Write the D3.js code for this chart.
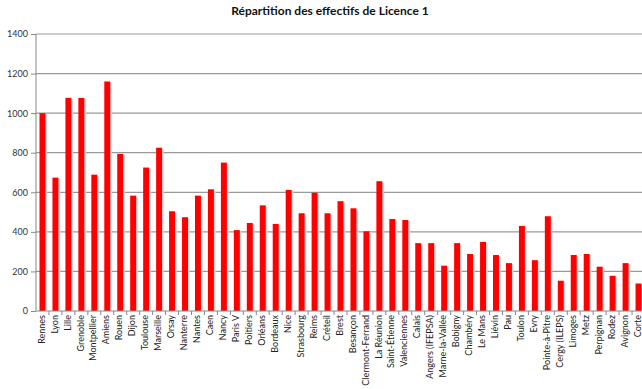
<!DOCTYPE html>
<html>
<head>
<meta charset="utf-8">
<script src="https://cdn.jsdelivr.net/npm/d3@7"></script>
<style>
  body{margin:0;background:#fff;}
  svg{display:block;}
  .tick text{font-family:Lato,"Open Sans",sans-serif;}
</style>
</head>
<body>
<svg id="chart"></svg>
<script>
var width=642;
var height=389;

var margin={top:34,right:-3,bottom:78,left:36};

var villes=['Rennes','Lyon','Lille','Grenoble','Montpellier','Amiens','Rouen','Dijon','Toulouse','Marseille',
            'Orsay','Nanterre','Nantes','Caen','Nancy','Paris V','Poitiers','Orléans','Bordeaux','Nice',
            'Strasbourg','Reims','Créteil','Brest','Besançon','Clermont-Ferrand','La Réunion','Saint-Étienne','Valenciennes','Calais',
            'Angers (IFEPSA)','Marne-la-Vallée','Bobigny','Chambéry','Le Mans','Liévin','Pau','Toulon','Evry','Pointe-à-Pitre',
            'Cergy (ILEPS)','Limoges','Metz','Perpignan','Rodez','Avignon','Corte'];

var effectifs=[1000,674,1077,1077,689,1160,794,583,725,825,
               504,474,583,615,750,409,445,534,440,612,
               494,598,494,555,519,403,656,465,460,343,
               343,229,343,288,349,283,242,430,257,479,
               153,283,288,224,178,242,139];

var yTicks=[0,200,400,600,800,1000,1200,1400];

var svg=d3.select('#chart')
    .attr('width',width)
    .attr('height',height);

var w=width-margin.left-margin.right;
var h=height-margin.top-margin.bottom;

var xScale=d3.scaleBand()
    .domain(villes)
    .range([0,w])
    .paddingInner(0.54)
    .paddingOuter(0.27);

var yScale=d3.scaleLinear()
    .domain([0,1400])
    .range([h,0]);

var g=svg.append('g')
    .attr('transform','translate('+margin.left+','+margin.top+')');

// grille horizontale
g.append('g')
    .selectAll('line')
    .data(yTicks.slice(1))
    .enter()
    .append('line')
    .attr('x1',0)
    .attr('x2',w+10)
    .attr('y1',function(d){return yScale(d);})
    .attr('y2',function(d){return yScale(d);})
    .attr('stroke','#9a9a9a')
    .attr('stroke-width',1.2);

// ombre des barres
g.append('g')
    .selectAll('rect')
    .data(effectifs)
    .enter()
    .append('rect')
    .attr('x',function(d,i){return xScale(villes[i])+1.5;})
    .attr('y',function(d){return yScale(d)+1;})
    .attr('width',xScale.bandwidth())
    .attr('height',function(d){return h-yScale(d)-1;})
    .attr('fill','#d8d8d8');

g.append('g')
    .selectAll('rect')
    .data(effectifs)
    .enter()
    .append('rect')
    .attr('x',function(d,i){return xScale(villes[i]);})
    .attr('y',function(d){return yScale(d);})
    .attr('width',xScale.bandwidth())
    .attr('height',function(d){return h-yScale(d);})
    .attr('fill','#ff0000');

var yAxis=d3.axisLeft(yScale)
    .tickValues(yTicks)
    .tickFormat(d3.format('d'))
    .tickSize(5)
    .tickPadding(3);

var ya=g.append('g').call(yAxis);
ya.select('.domain').attr('stroke','#888').attr('d','M0,0V'+h);
ya.selectAll('.tick line').attr('stroke','#888');
ya.selectAll('.tick text').attr('font-size',9).attr('fill','#333');

// axe des x
g.append('line')
    .attr('x1',0).attr('x2',w+10)
    .attr('y1',h).attr('y2',h)
    .attr('stroke','#888');

var xAxis=d3.axisBottom(xScale)
    .tickSize(4)
    .tickSizeOuter(0);

var xa=g.append('g')
    .attr('transform','translate(0,'+h+')')
    .call(xAxis);
xa.select('.domain').remove();
xa.selectAll('.tick line')
    .attr('stroke','#888')
    .attr('transform','translate('+(xScale.step()/2)+',0)');
xa.selectAll('.tick text')
    .attr('font-size',9)
    .attr('fill','#222')
    .attr('transform','rotate(-90)')
    .attr('text-anchor','end')
    .attr('x',-4)
    .attr('y',-1)
    .attr('dy','0.35em');

svg.append('text')
    .attr('x',330)
    .attr('y',15)
    .attr('text-anchor','middle')
    .attr('font-family','Lato,"Open Sans",sans-serif')
    .attr('font-weight','bold')
    .attr('font-size',12)
    .attr('fill','#111')
    .text('Répartition des effectifs de Licence 1');
</script>
</body>
</html>
